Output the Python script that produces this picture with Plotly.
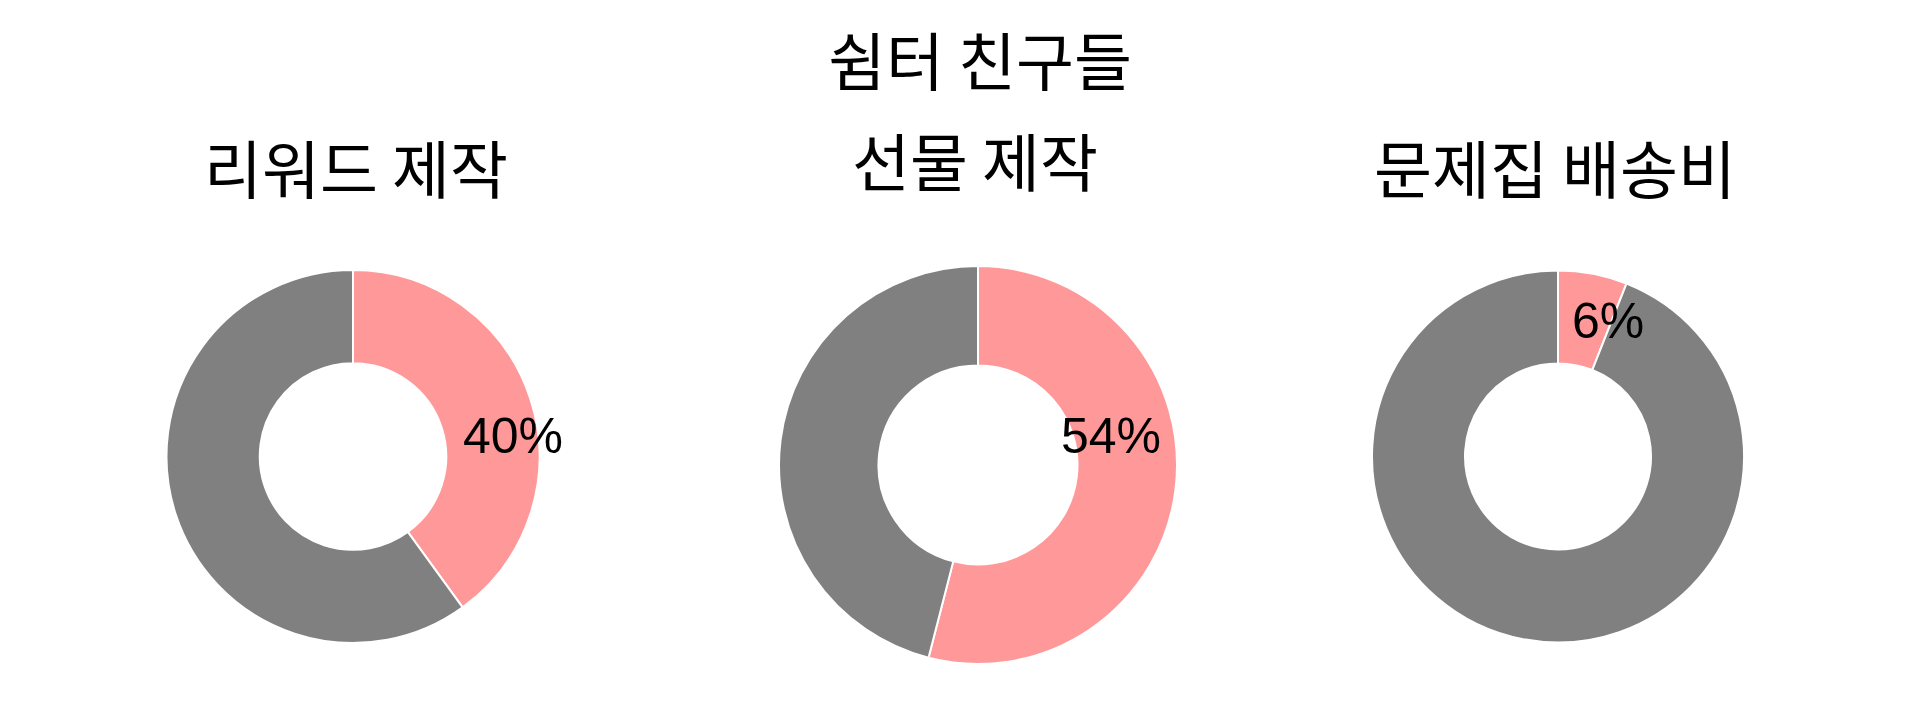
import plotly.graph_objects as go

# share of each budget item (pink slice), remainder drawn in gray
categories = ["리워드 제작", "선물 제작", "문제집 배송비"]
shares = [40, 54, 6]
rest = [100 - s for s in shares]
slice_labels = ["해당 비율", "나머지"]
main_title = "쉼터 친구들"

colors = ["#FF9999", "#808080"]

# page body keeps an 8px margin, so the figure is a bit smaller than the window
PAD = 8
W, H = 1912 - 2 * PAD, 721 - 2 * PAD

# layout in window pixels: pie centre, radius, title centre, label offset from centre
pie_center = [(353, 456.5), (978, 465), (1558, 456.5)]
pie_radius = [186.5, 199, 186]
title_pos = [(355.5, 165.5), (975, 158.5), (1554.5, 165)]
label_offset = [(160, -20.5), (133, -29), (49.5, -135.5)]

TITLE_FONT = "'Noto Sans CJK KR', sans-serif"
LABEL_FONT = "Arial, 'Liberation Sans', sans-serif"
TITLE_SIZE = 63


def px(x):
    return (x - PAD) / W


def py(y):
    return 1 - (y - PAD) / H


fig = go.Figure()
for i, cat in enumerate(categories):
    cx, cy = pie_center[i]
    r = pie_radius[i]
    fig.add_trace(go.Pie(
        labels=slice_labels,
        values=[shares[i], rest[i]],
        textinfo="none",
        hole=0.5,
        sort=False,
        direction="clockwise",
        marker=dict(colors=colors, line=dict(color="white", width=2)),
        domain=dict(x=[px(cx - r), px(cx + r)], y=[py(cy + r), py(cy - r)]),
        hoverinfo="label+percent",
        name=cat,
    ))
    fig.add_annotation(
        text=cat, x=px(title_pos[i][0]), y=py(title_pos[i][1]),
        xref="paper", yref="paper", xanchor="center", yanchor="middle",
        showarrow=False, font=dict(size=TITLE_SIZE, color="black", family=TITLE_FONT),
    )
    dx, dy = label_offset[i]
    fig.add_annotation(
        text=f"{shares[i]}%", x=px(cx + dx), y=py(cy + dy),
        xref="paper", yref="paper", xanchor="center", yanchor="middle",
        showarrow=False, font=dict(size=50, color="black", family=LABEL_FONT),
    )

fig.update_layout(
    width=W, height=H,
    margin=dict(l=0, r=0, t=0, b=0),
    paper_bgcolor="white", plot_bgcolor="white",
    font=dict(family=LABEL_FONT, color="black"),
    title=dict(text=main_title, x=px(980), xanchor="center", y=py(62.5), yanchor="middle",
               font=dict(size=TITLE_SIZE, color="black", family=TITLE_FONT)),
    showlegend=False,
)

fig.write_html("out.html")
